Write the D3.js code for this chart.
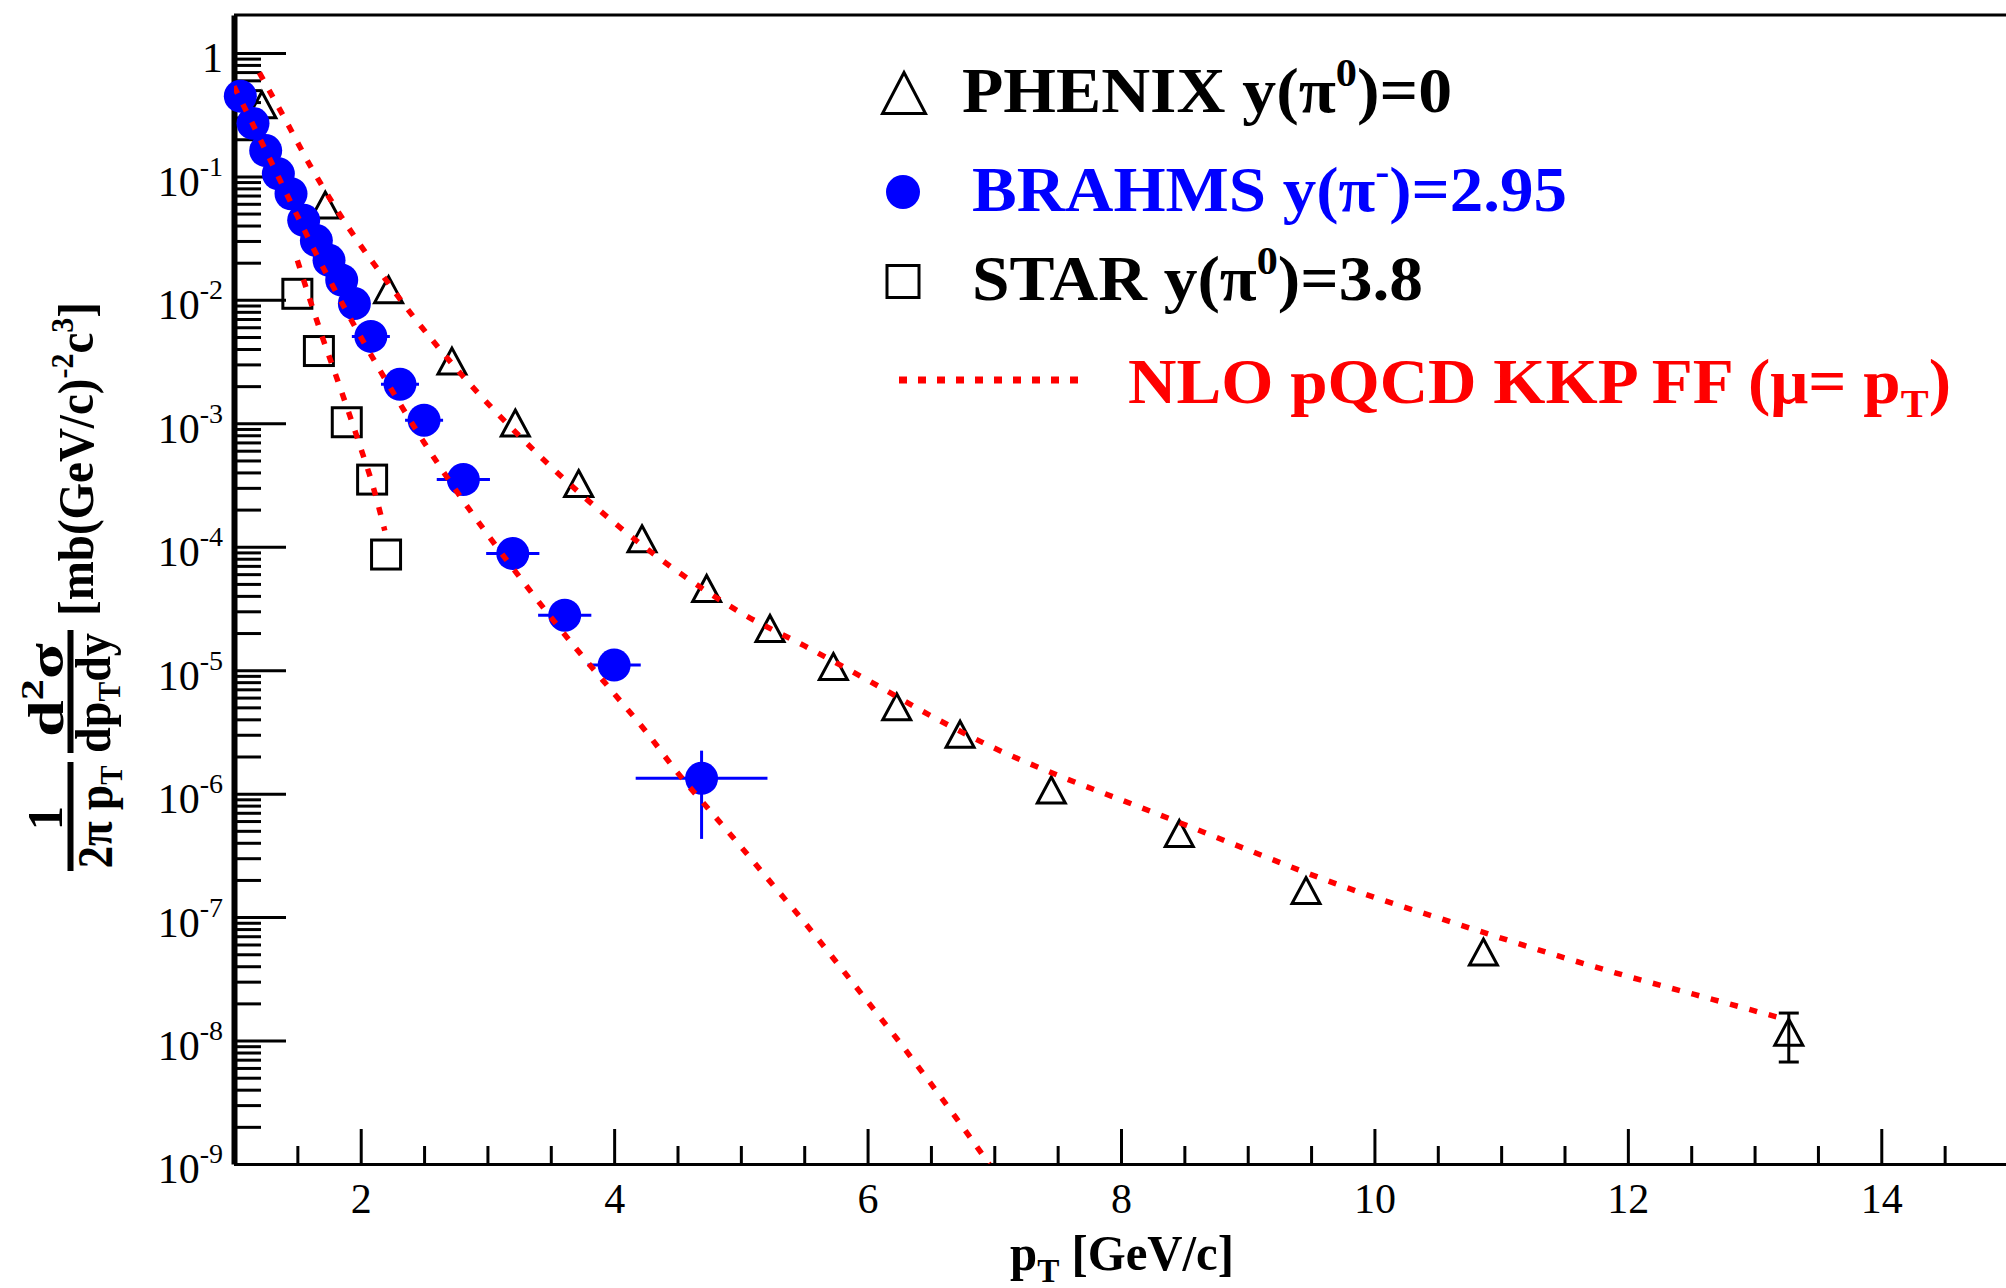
<!DOCTYPE html>
<html><head><meta charset="utf-8">
<script src="https://cdn.jsdelivr.net/npm/d3@7"></script>
<style>body{margin:0;background:#fff} svg{display:block}</style>
</head><body>
<svg id="c" width="2006" height="1288"></svg>
<script>
// ---------------- data ----------------
const phenixPt  = [1.22, 1.72, 2.22, 2.72, 3.22, 3.72, 4.22, 4.73, 5.23, 5.73, 6.23, 6.73, 7.45, 8.46, 9.46, 10.86, 13.27];
const phenixVal = [0.381, 0.0586, 0.0121, 3.19e-3, 1.005e-3, 3.25e-4, 1.16e-4, 4.59e-5, 2.18e-5, 1.07e-5, 5.05e-6, 3.03e-6, 1.07e-6, 4.76e-7, 1.64e-7, 5.21e-8, 1.17e-8];
const phenixErr = [0, 0, 0, 0, 0, 0, 0, 0, 0, 0, 0, 0, 0, 0, 0, 0, 5.0e-9];

const brahmsPt   = [1.05, 1.15, 1.25, 1.35, 1.45, 1.55, 1.65, 1.75, 1.85, 1.95, 2.08, 2.31, 2.50, 2.81, 3.20, 3.61, 4.00, 4.69];
const brahmsVal  = [0.447, 0.269, 0.162, 0.105, 0.0724, 0.0441, 0.0302, 0.0209, 0.01445, 0.00933, 5.06e-3, 2.07e-3, 1.06e-3, 3.50e-4, 8.81e-5, 2.79e-5, 1.10e-5, 1.33e-6];
const brahmsXerr = [0.05, 0.05, 0.05, 0.05, 0.05, 0.05, 0.05, 0.05, 0.05, 0.05, 0.15, 0.15, 0.15, 0.21, 0.21, 0.21, 0.21, 0.52];
const brahmsYerr = [0, 0, 0, 0, 0, 0, 0, 0, 0, 0, 0, 0, 0, 0, 0, 0, 0, 9.0e-7];

const starPt  = [1.50, 1.67, 1.89, 2.09, 2.20];
const starVal = [0.0112, 3.85e-3, 1.02e-3, 3.5e-4, 8.65e-5];

const nloPhenixPt  = [1.2, 1.4, 1.6, 1.8, 2.0, 2.2, 2.4, 2.6, 2.8, 3.0, 3.25, 3.5, 3.75, 4.0, 4.25, 4.5, 4.75, 5.0, 5.5, 6.0, 6.5, 7.0, 7.5, 8.0, 8.5, 9.0, 9.5, 10.0, 10.5, 11.0, 11.5, 12.0, 12.5, 13.0, 13.25];
const nloPhenixVal = [0.692, 0.295, 0.123, 0.0562, 0.0275, 0.01445, 7.67e-3, 4.27e-3, 2.45e-3, 1.46e-3, 7.94e-4, 4.47e-4, 2.60e-4, 1.57e-4, 9.77e-5, 6.31e-5, 4.22e-5, 2.92e-5, 1.58e-5, 8.32e-6, 4.27e-6, 2.34e-6, 1.41e-6, 8.91e-7, 5.62e-7, 3.51e-7, 2.21e-7, 1.445e-7, 9.89e-8, 6.76e-8, 4.68e-8, 3.31e-8, 2.40e-8, 1.74e-8, 1.48e-8];

const nloBrahmsPt  = [1.0, 1.25, 1.5, 1.75, 2.0, 2.25, 2.5, 2.75, 3.0, 3.25, 3.5, 3.75, 4.0, 4.25, 4.5, 4.75, 5.0, 5.25, 5.5, 5.75, 6.0, 6.25, 6.5, 6.75, 6.96];
const nloBrahmsVal = [0.537, 0.162, 0.0479, 0.0148, 5.01e-3, 1.82e-3, 7.0e-4, 2.88e-4, 1.26e-4, 5.75e-5, 2.69e-5, 1.30e-5, 6.46e-6, 3.20e-6, 1.48e-6, 7.41e-7, 3.72e-7, 1.84e-7, 9.12e-8, 4.37e-8, 2.07e-8, 9.77e-9, 4.47e-9, 2.0e-9, 1.0e-9];

const nloStarPt  = [1.50, 1.6, 1.7, 1.8, 1.9, 2.0, 2.1, 2.19];
const nloStarVal = [0.0209, 0.0100, 4.9e-3, 2.51e-3, 1.27e-3, 6.31e-4, 3.02e-4, 1.35e-4];

const yTickVals = [1, 1e-1, 1e-2, 1e-3, 1e-4, 1e-5, 1e-6, 1e-7, 1e-8, 1e-9];
const yTickBase = ["1", "10", "10", "10", "10", "10", "10", "10", "10", "10"];
const yTickExp  = ["", "-1", "-2", "-3", "-4", "-5", "-6", "-7", "-8", "-9"];
const xTickVals = [2, 4, 6, 8, 10, 12, 14];
const xTickLabels = ["2", "4", "6", "8", "10", "12", "14"];

// ---------------- setup ----------------
const FONT = "'Liberation Serif','Times New Roman',serif";
const svg = d3.select("#c").style("font-family", FONT);
const x = d3.scaleLinear().domain([1, 15]).range([234, 2008]);
const y = d3.scaleLog().domain([1e-9, 2.03]).range([1164, 15]);

svg.append("defs").append("clipPath").attr("id", "plotclip")
  .append("rect").attr("x", x(1)).attr("y", y(2.03)).attr("width", x(15) - x(1)).attr("height", y(1e-9) - y(2.03));

// frame top & right
svg.append("line").attr("x1", x(1)).attr("x2", x(15)).attr("y1", y(2.03)).attr("y2", y(2.03)).attr("stroke", "#000").attr("stroke-width", 3);
svg.append("line").attr("x1", x(15)).attr("x2", x(15)).attr("y1", y(2.03)).attr("y2", y(1e-9)).attr("stroke", "#000").attr("stroke-width", 3);

// y minor ticks
const yMinor = [];
for (let k = -9; k <= -1; k++) for (let m = 2; m <= 9; m++) yMinor.push(m * Math.pow(10, k));
const gYm = svg.append("g").attr("transform", `translate(${x(1)},0)`)
  .call(d3.axisLeft(y).tickValues(yMinor).tickSize(-27).tickSizeOuter(0).tickFormat(() => ""));
gYm.select(".domain").remove();
gYm.selectAll(".tick line").attr("stroke-width", 3);

// x minor ticks
const xMinor = d3.range(1.5, 15, 0.5).filter(v => v % 2 !== 0);
const gXm = svg.append("g").attr("transform", `translate(0,${y(1e-9)})`)
  .call(d3.axisBottom(x).tickValues(xMinor).tickSize(-18).tickSizeOuter(0).tickFormat(() => ""));
gXm.select(".domain").remove();
gXm.selectAll(".tick line").attr("stroke-width", 3);

// x major axis
const gX = svg.append("g").attr("transform", `translate(0,${y(1e-9)})`)
  .call(d3.axisBottom(x).tickValues(xTickVals).tickSize(-35).tickSizeOuter(0).tickPadding(19)
    .tickFormat((d, i) => xTickLabels[i]));
gX.select(".domain").attr("stroke-width", 3);
gX.selectAll(".tick line").attr("stroke-width", 3);
gX.selectAll(".tick text").attr("font-size", 42).attr("font-family", FONT).attr("fill", "#000");

// y major axis
const gY = svg.append("g").attr("transform", `translate(${x(1)},0)`)
  .call(d3.axisLeft(y).tickValues(yTickVals).tickSize(-52).tickSizeOuter(0).tickPadding(11).tickFormat(() => ""));
gY.select(".domain").attr("stroke-width", 6);
gY.selectAll(".tick line").attr("stroke-width", 3);
gY.selectAll(".tick text").each(function (d, i) {
  const t = d3.select(this).attr("font-size", 42).attr("font-family", FONT).attr("fill", "#000").attr("dy", "0.45em");
  t.append("tspan").text(yTickBase[i]);
  if (yTickExp[i]) t.append("tspan").attr("font-size", 28).attr("dy", -20).text(yTickExp[i]);
});

// ---------------- data marks ----------------
const plot = svg.append("g");
const tri = (w, h) => `M0,${-h / 2}L${w / 2},${h / 2}L${-w / 2},${h / 2}Z`;

const phenix = phenixPt.map((p, i) => ({ p, v: phenixVal[i], e: phenixErr[i] }));
plot.append("g").selectAll("g").data(phenix.filter(d => d.e > 0)).join("g").each(function (d) {
  const g = d3.select(this);
  const xx = x(d.p), y1 = y(d.v + d.e), y2 = y(d.v - d.e);
  g.append("line").attr("x1", xx).attr("x2", xx).attr("y1", y1).attr("y2", y2).attr("stroke", "#000").attr("stroke-width", 3);
  g.append("line").attr("x1", xx - 10).attr("x2", xx + 10).attr("y1", y1).attr("y2", y1).attr("stroke", "#000").attr("stroke-width", 3);
  g.append("line").attr("x1", xx - 10).attr("x2", xx + 10).attr("y1", y2).attr("y2", y2).attr("stroke", "#000").attr("stroke-width", 3);
});
plot.append("g").selectAll("path").data(phenix).join("path")
  .attr("transform", d => `translate(${x(d.p)},${y(d.v)})`)
  .attr("d", tri(28, 26)).attr("fill", "none").attr("stroke", "#000").attr("stroke-width", 3);

const star = starPt.map((p, i) => ({ p, v: starVal[i] }));
plot.append("g").selectAll("rect").data(star).join("rect")
  .attr("x", d => x(d.p) - 14.5).attr("y", d => y(d.v) - 14.5).attr("width", 29).attr("height", 29)
  .attr("fill", "none").attr("stroke", "#000").attr("stroke-width", 3);

const brahms = brahmsPt.map((p, i) => ({ p, v: brahmsVal[i], xe: brahmsXerr[i], ye: brahmsYerr[i] }));
const gB = plot.append("g");
gB.selectAll("line.xe").data(brahms).join("line").attr("class", "xe")
  .attr("x1", d => x(d.p - d.xe)).attr("x2", d => x(d.p + d.xe)).attr("y1", d => y(d.v)).attr("y2", d => y(d.v))
  .attr("stroke", "#0000ff").attr("stroke-width", 3);
gB.selectAll("line.ye").data(brahms.filter(d => d.ye > 0)).join("line").attr("class", "ye")
  .attr("x1", d => x(d.p)).attr("x2", d => x(d.p)).attr("y1", d => y(d.v + d.ye)).attr("y2", d => y(d.v - d.ye))
  .attr("stroke", "#0000ff").attr("stroke-width", 3);
gB.selectAll("circle").data(brahms).join("circle")
  .attr("cx", d => x(d.p)).attr("cy", d => y(d.v)).attr("r", 16.5).attr("fill", "#0000ff");

// NLO curves
const line = d3.line().x(d => x(d[0])).y(d => y(d[1])).curve(d3.curveMonotoneX);
const curves = [
  d3.zip(nloPhenixPt, nloPhenixVal),
  d3.zip(nloBrahmsPt, nloBrahmsVal),
  d3.zip(nloStarPt, nloStarVal)
];
svg.append("g").attr("clip-path", "url(#plotclip)").selectAll("path").data(curves).join("path")
  .attr("d", line).attr("fill", "none").attr("stroke", "#ff0000").attr("stroke-width", 5.5)
  .attr("stroke-dasharray", "8,12");

// ---------------- legend ----------------
const leg = svg.append("g").attr("font-weight", "bold").attr("font-size", 64);
leg.append("path").attr("transform", "translate(904,93)").attr("d", tri(43, 41))
  .attr("fill", "none").attr("stroke", "#000").attr("stroke-width", 3);
leg.append("circle").attr("cx", 903).attr("cy", 192).attr("r", 17).attr("fill", "#0000ff");
leg.append("rect").attr("x", 887).attr("y", 265.5).attr("width", 32).attr("height", 32)
  .attr("fill", "none").attr("stroke", "#000").attr("stroke-width", 3);
leg.append("line").attr("x1", 899).attr("x2", 1087).attr("y1", 380).attr("y2", 380)
  .attr("stroke", "#ff0000").attr("stroke-width", 7).attr("stroke-dasharray", "8,11");

function legText(xp, yp, len, color, parts) {
  const t = leg.append("text").attr("x", xp).attr("y", yp).attr("fill", color)
    .attr("textLength", len).attr("lengthAdjust", "spacingAndGlyphs");
  parts.forEach(p => {
    const s = t.append("tspan").text(p.t);
    if (p.sup) s.attr("font-size", 40).attr("dy", -26);
    if (p.sub) s.attr("font-size", 40).attr("dy", 14);
    if (p.back) s.attr("dy", p.back);
  });
}
legText(962, 112, 490, "#000", [{ t: "PHENIX y(π" }, { t: "0", sup: 1 }, { t: ")=0", back: 26 }]);
legText(972, 211, 595, "#0000ff", [{ t: "BRAHMS y(π" }, { t: "-", sup: 1 }, { t: ")=2.95", back: 26 }]);
legText(972, 300, 451, "#000", [{ t: "STAR y(π" }, { t: "0", sup: 1 }, { t: ")=3.8", back: 26 }]);
legText(1128, 403, 823, "#ff0000", [{ t: "NLO pQCD KKP FF (μ= p" }, { t: "T", sub: 1 }, { t: ")", back: -14 }]);

// ---------------- axis titles ----------------
const xt = svg.append("text").attr("x", 1010).attr("y", 1270).attr("font-weight", "bold").attr("font-size", 50)
  .attr("textLength", 224).attr("lengthAdjust", "spacingAndGlyphs");
xt.append("tspan").text("p");
xt.append("tspan").attr("font-size", 34).attr("dy", 12).text("T");
xt.append("tspan").attr("dy", -12).text(" [GeV/c]");

const yt = svg.append("g").attr("font-weight", "bold").attr("font-size", 50);
function rotText(bx, cy, len, parts) {
  const t = yt.append("text").attr("transform", `translate(${bx},${cy}) rotate(-90)`)
    .attr("text-anchor", "middle").attr("textLength", len).attr("lengthAdjust", "spacingAndGlyphs");
  parts.forEach(p => {
    const s = t.append("tspan").text(p.t);
    if (p.fs) s.attr("font-size", p.fs);
    if (p.dy) s.attr("dy", p.dy);
  });
}
rotText(93, 459, 314, [{ t: "[mb(GeV/c)" }, { t: "-2", fs: 32, dy: -20 }, { t: "c", dy: 20 }, { t: "3", fs: 32, dy: -20 }, { t: "]", dy: 20 }]);
rotText(63, 690, 94, [{ t: "d" }, { t: "2", fs: 32, dy: -20 }, { t: "σ", dy: 20 }]);
rotText(110, 693, 120, [{ t: "dp" }, { t: "T", fs: 32, dy: 10 }, { t: "dy", dy: -10 }]);
rotText(62, 818, 24, [{ t: "1" }]);
rotText(112, 817, 103, [{ t: "2π p" }, { t: "T", fs: 32, dy: 10 }]);
yt.append("line").attr("x1", 70.5).attr("x2", 70.5).attr("y1", 630).attr("y2", 753).attr("stroke", "#000").attr("stroke-width", 6);
yt.append("line").attr("x1", 70.5).attr("x2", 70.5).attr("y1", 762).attr("y2", 871).attr("stroke", "#000").attr("stroke-width", 6);
</script>
</body></html>
